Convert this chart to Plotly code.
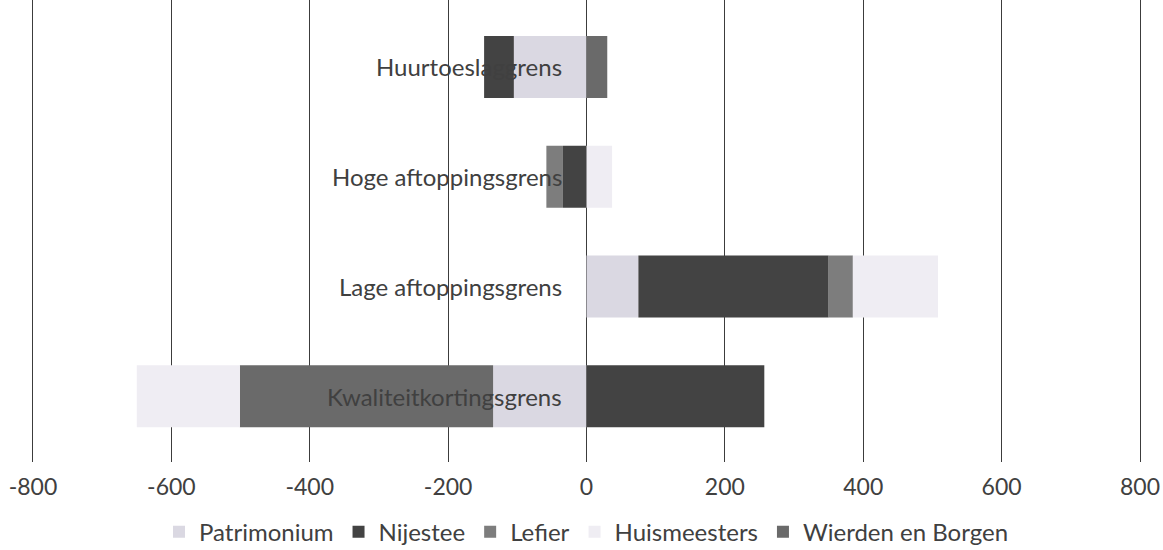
import plotly.graph_objects as go

# Categories listed bottom to top
categories = ["Kwaliteitkortingsgrens", "Lage aftoppingsgrens",
              "Hoge aftoppingsgrens", "Huurtoeslaggrens"]

# Values per corporation (negative = left of zero)
patrimonium = [-135, 75, 0, -105]
nijestee = [257, 275, -34, -43]
lefier = [0, 35, -24, 0]
wierden_en_borgen = [-366, 0, 0, 30]
huismeesters = [-149, 123, 37, 0]

x_ticks = [-800, -600, -400, -200, 0, 200, 400, 600, 800]

FONT = "Lato"
TEXT = "#404040"
GRID = "#3c3c3c"

# Trace order sets the stacking order; legendrank sets the legend order
series = [
    ("Patrimonium", patrimonium, "#dad8e2", 1),
    ("Nijestee", nijestee, "#434343", 2),
    ("Lefier", lefier, "#7d7d7d", 3),
    ("Wierden en Borgen", wierden_en_borgen, "#6a6a6a", 5),
    ("Huismeesters", huismeesters, "#efedf3", 4),
]

fig = go.Figure()
for name, vals, color, rank in series:
    fig.add_trace(go.Bar(
        name=name, y=categories, x=vals, orientation="h",
        marker=dict(color=color, line=dict(width=0)),
        legendrank=rank,
    ))

# Category labels sit just left of the zero line, on top of the bars
for cat in categories:
    fig.add_annotation(
        x=0, y=cat, xref="x", yref="y", text=cat, showarrow=False,
        xanchor="right", yanchor="middle", xshift=-23,
        font=dict(family=FONT, size=24, color=TEXT),
    )

fig.update_layout(
    width=1163, height=550,
    barmode="relative", bargap=0.435,
    plot_bgcolor="white", paper_bgcolor="white",
    margin=dict(l=33, r=23, t=0, b=88, autoexpand=False),
    font=dict(family=FONT, size=23, color=TEXT),
    showlegend=True,
    legend=dict(
        orientation="h", x=0.5, xanchor="center",
        y=-0.152, yanchor="middle",
        font=dict(family=FONT, size=24, color=TEXT),
        traceorder="normal", itemwidth=30,
    ),
    xaxis=dict(
        range=[-800, 800], tickvals=x_ticks, ticktext=[str(v) for v in x_ticks],
        showgrid=True, gridcolor=GRID, gridwidth=1,
        zeroline=True, zerolinecolor=GRID, zerolinewidth=1,
        showline=False, ticks="", ticklabelstandoff=9,
    ),
    yaxis=dict(
        range=[-0.6, 3.61], showticklabels=False, showgrid=False,
        zeroline=False, ticks="",
        # vertical lines at the -800 and 800 edges
        showline=True, mirror=True, linecolor=GRID, linewidth=1,
    ),
)

fig.write_html("out.html")
